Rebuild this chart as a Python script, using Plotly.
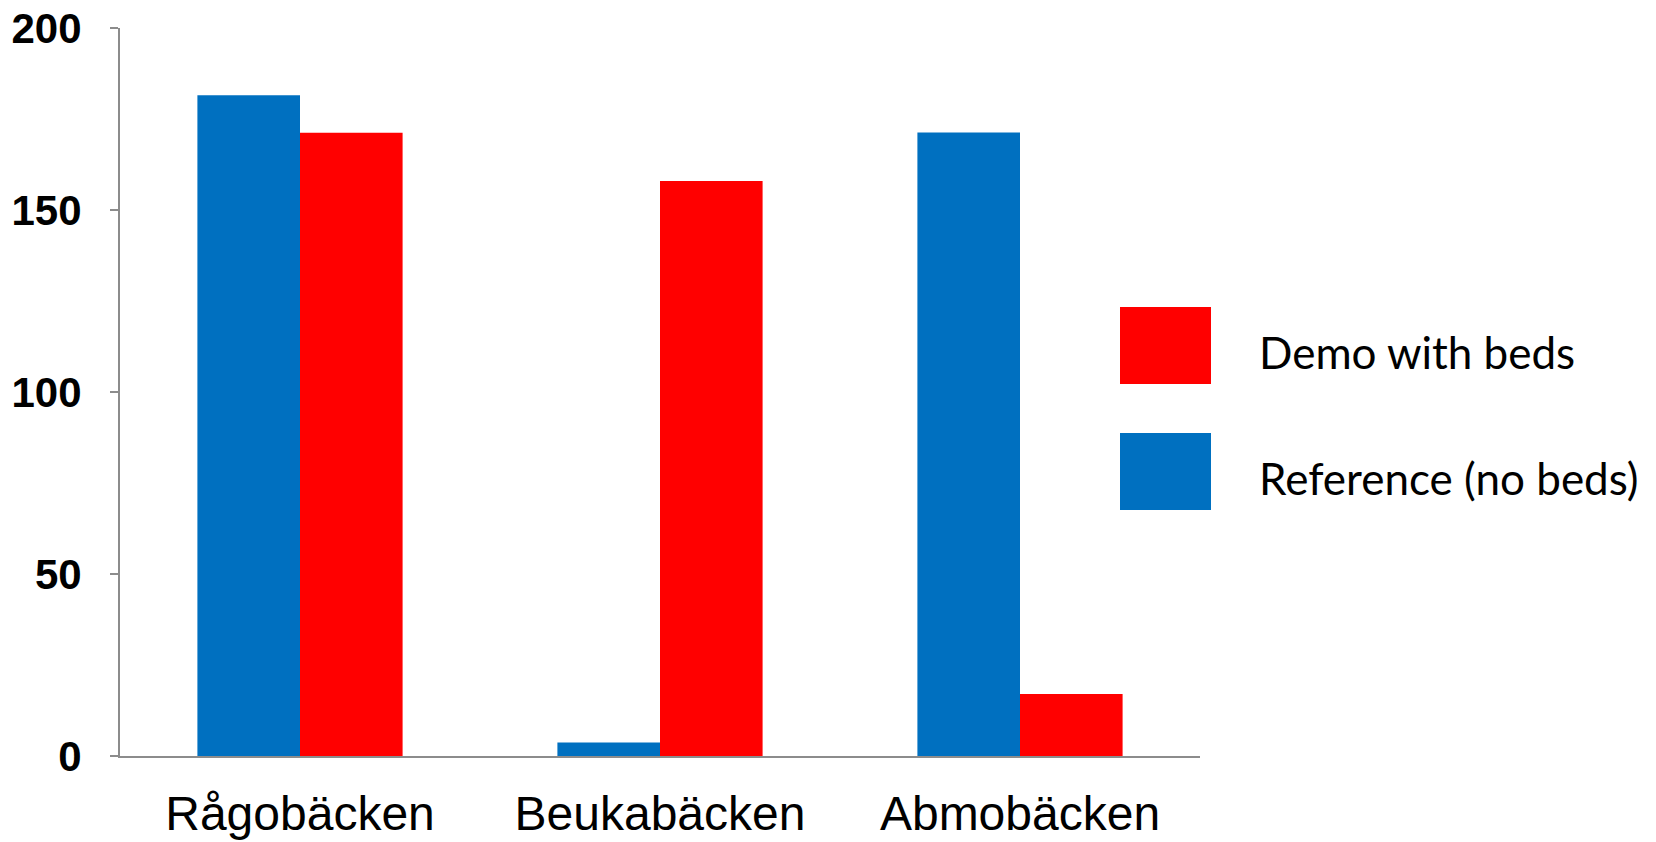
import plotly.graph_objects as go

# Streams and measured values per treatment
streams = ["Rågobäcken", "Beukabäcken", "Abmobäcken"]
reference_no_beds = [181.5, 3.7, 171.3]
demo_with_beds = [171.2, 158.0, 17.0]

yticks = [0, 50, 100, 150, 200]

BLUE = "#0070C0"
RED = "#FF0000"
AXIS_GRAY = "#8C8C8C"

W, H = 1656, 842
L, R, T, B = 120, 456, 28, 86  # plot area 120..1200 x 28..756

fig = go.Figure()
fig.add_trace(go.Bar(x=streams, y=reference_no_beds, name="Reference (no beds)",
                     marker=dict(color=BLUE, line=dict(width=0))))
fig.add_trace(go.Bar(x=streams, y=demo_with_beds, name="Demo with beds",
                     marker=dict(color=RED, line=dict(width=0))))

fig.update_layout(
    width=W, height=H,
    margin=dict(l=L, r=R, t=T, b=B, pad=0, autoexpand=False),
    paper_bgcolor="white", plot_bgcolor="white",
    barmode="group", bargap=0.43, bargroupgap=0,
    showlegend=False,
    font=dict(family="Liberation Sans, Arial, sans-serif", color="black"),
)

fig.update_xaxes(
    range=[-0.5, 2.5], automargin=False,
    showline=True, linecolor=AXIS_GRAY, linewidth=2,
    ticks="", showgrid=False, zeroline=False,
    tickfont=dict(size=48, family="Liberation Sans, Arial, sans-serif"),
    ticklabelstandoff=14,
)
fig.update_yaxes(
    range=[0, 200], tickvals=yticks, ticktext=[str(v) for v in yticks],
    automargin=False,
    showline=True, linecolor=AXIS_GRAY, linewidth=2,
    ticks="outside", ticklen=8, tickcolor=AXIS_GRAY, tickwidth=2,
    showgrid=False, zeroline=False,
    tickfont=dict(size=42, family="Liberation Sans, Arial, sans-serif", weight="bold"),
    ticklabelstandoff=20,
)

# Legend drawn as large colour swatches with labels to the right of the plot
plot_w = W - L - R
plot_h = H - T - B


def px_x(px):
    return (px - L) / plot_w


def px_y(py):
    return (H - B - py) / plot_h


legend_items = [("Demo with beds", RED, 307, 384), ("Reference (no beds)", BLUE, 433, 510)]
for label, color, top, bottom in legend_items:
    fig.add_shape(type="rect", xref="paper", yref="paper",
                  x0=px_x(1120), x1=px_x(1211), y0=px_y(bottom), y1=px_y(top),
                  fillcolor=color, line=dict(width=0))
    fig.add_annotation(xref="paper", yref="paper", x=px_x(1257), y=px_y((top + bottom) / 2 + 6),
                       xanchor="left", yanchor="middle", showarrow=False,
                       text=label, font=dict(family="Lato, sans-serif", size=44, color="black"))

fig.write_html("out.html")
